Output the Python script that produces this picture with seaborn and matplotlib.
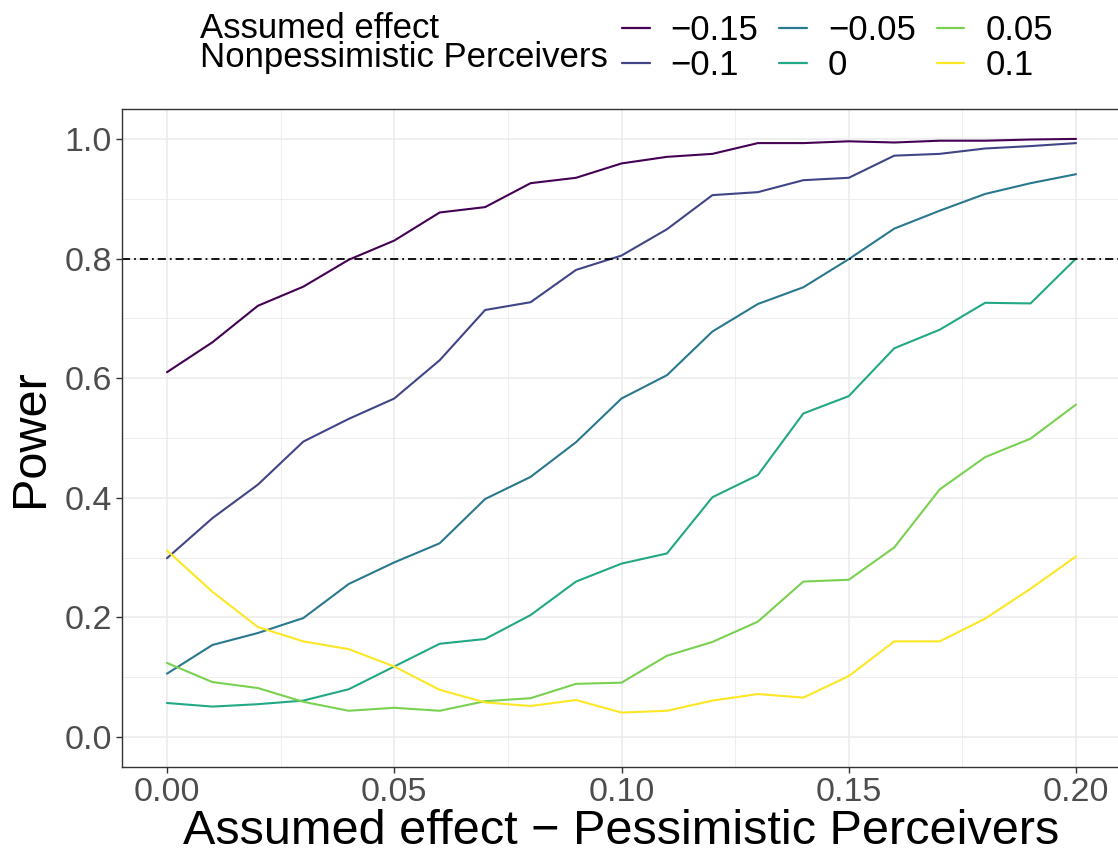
import numpy as np
import pandas as pd
import matplotlib
matplotlib.use("Agg")
import matplotlib.pyplot as plt
import seaborn as sns
from matplotlib.ticker import FixedLocator

# ---- data ----
x_pess = [0.00, 0.01, 0.02, 0.03, 0.04, 0.05, 0.06, 0.07, 0.08, 0.09, 0.10,
          0.11, 0.12, 0.13, 0.14, 0.15, 0.16, 0.17, 0.18, 0.19, 0.20]

effect_labels = ["\u22120.15", "\u22120.1", "\u22120.05", "0", "0.05", "0.1"]

power_m015 = [0.610, 0.660, 0.721, 0.753, 0.798, 0.830, 0.877, 0.886, 0.926, 0.935, 0.959,
              0.970, 0.975, 0.993, 0.993, 0.996, 0.994, 0.997, 0.997, 0.999, 1.000]
power_m010 = [0.299, 0.366, 0.422, 0.494, 0.532, 0.566, 0.630, 0.714, 0.727, 0.781, 0.805,
              0.849, 0.906, 0.911, 0.931, 0.935, 0.972, 0.975, 0.984, 0.988, 0.993]
power_m005 = [0.106, 0.154, 0.174, 0.199, 0.256, 0.292, 0.324, 0.398, 0.435, 0.493, 0.566,
              0.605, 0.678, 0.724, 0.752, 0.799, 0.850, 0.880, 0.908, 0.926, 0.941]
power_0 = [0.057, 0.051, 0.055, 0.061, 0.080, 0.118, 0.156, 0.164, 0.204, 0.260, 0.290,
           0.307, 0.401, 0.438, 0.541, 0.570, 0.650, 0.681, 0.726, 0.725, 0.800]
power_p005 = [0.124, 0.092, 0.082, 0.059, 0.044, 0.049, 0.044, 0.060, 0.065, 0.089, 0.091,
              0.136, 0.159, 0.193, 0.260, 0.263, 0.317, 0.414, 0.468, 0.499, 0.556]
power_p010 = [0.312, 0.243, 0.184, 0.160, 0.147, 0.118, 0.079, 0.058, 0.052, 0.062, 0.041,
              0.044, 0.061, 0.072, 0.066, 0.102, 0.160, 0.160, 0.198, 0.248, 0.302]

target_power = 0.8
legend_title = "Assumed effect\nNonpessimistic Perceivers"

colors = ["#440154", "#414487", "#2A788E", "#22A884", "#7AD151", "#FDE725"]

series = [power_m015, power_m010, power_m005, power_0, power_p005, power_p010]
df = pd.concat(
    [pd.DataFrame({"x": x_pess, "power": s, "effect": lab})
     for s, lab in zip(series, effect_labels)],
    ignore_index=True,
)

# ---- style ----
sns.set_theme(style="white")
plt.rcParams["font.family"] = ["Liberation Sans", "DejaVu Sans"]

W, H = 1118, 855
fig = plt.figure(figsize=(W / 100, H / 100), dpi=100)
ax = fig.add_axes([121.5 / W, 88 / H, 1000 / W, 658 / H])

sns.lineplot(data=df, x="x", y="power", hue="effect", hue_order=effect_labels,
             palette=colors, linewidth=1.5, estimator=None, sort=False, ax=ax)

ax.axhline(target_power, color="black", linewidth=1.3, dashes=(4.5, 2.2, 1, 2.2))

ax.set_xlim(-0.01, 0.21)
ax.set_ylim(-0.05, 1.05)

ax.xaxis.set_major_locator(FixedLocator([0.0, 0.05, 0.10, 0.15, 0.20]))
ax.xaxis.set_minor_locator(FixedLocator([0.025, 0.075, 0.125, 0.175]))
ax.set_xticklabels(["0.00", "0.05", "0.10", "0.15", "0.20"])
ax.yaxis.set_major_locator(FixedLocator([0.0, 0.2, 0.4, 0.6, 0.8, 1.0]))
ax.yaxis.set_minor_locator(FixedLocator([0.1, 0.3, 0.5, 0.7, 0.9]))
ax.set_yticklabels(["0.0", "0.2", "0.4", "0.6", "0.8", "1.0"])

ax.set_axisbelow(True)
ax.grid(True, which="major", color="#EBEBEB", linewidth=1.1)
ax.grid(True, which="minor", color="#EBEBEB", linewidth=0.6)
for sp in ax.spines.values():
    sp.set_color("#333333")
    sp.set_linewidth(1.0)

ax.tick_params(which="major", direction="out", length=4, width=1, color="#333333",
               labelsize=24.5, labelcolor="#4D4D4D", pad=3, bottom=True, left=True)
ax.tick_params(which="minor", length=0)

ax.set_xlabel("Assumed effect \u2212 Pessimistic Perceivers", fontsize=35,
              color="black", labelpad=1)
ax.set_ylabel("Power", fontsize=35, color="black", labelpad=8)

# ---- legend at the top, title to the left ----
handles, labels = ax.get_legend_handles_labels()
ax.get_legend().remove()
for h in handles:
    h.set_linewidth(1.6)
leg = fig.legend(handles, labels, ncol=3, loc="upper left",
                 bbox_to_anchor=(622 / W, 1 - 14 / H), frameon=False, fontsize=25,
                 handlelength=0.8, handletextpad=0.6, columnspacing=0.6,
                 labelspacing=0.05, borderpad=0, borderaxespad=0)
for t in leg.get_texts():
    t.set_color("black")
fig.text(200 / W, 1 - 67 / H, legend_title, fontsize=25, va="baseline",
         ha="left", color="black", linespacing=0.86)

fig.savefig("out.png", dpi=100)
